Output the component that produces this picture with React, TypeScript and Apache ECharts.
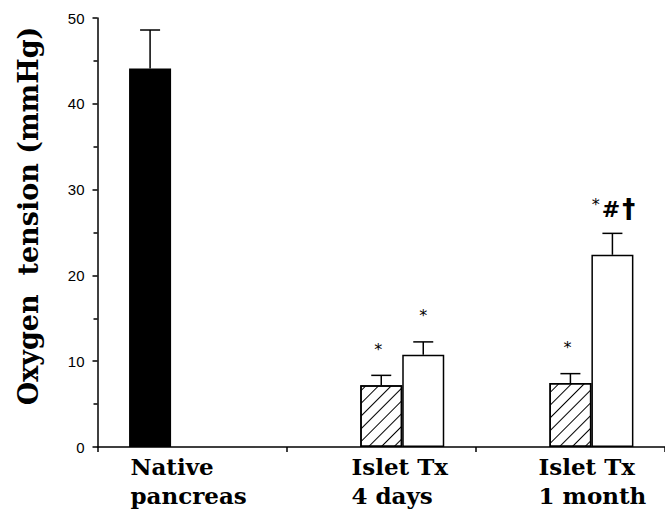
import React, { useEffect, useRef } from "react";
import * as echarts from "echarts";

const categories = ["Native\npancreas", "Islet Tx\n4 days", "Islet Tx\n1 month"];
const nativeMean = [44.1, null, null];
const nativeErr = [4.5, null, null];
const hatchedMean = [null, 7.2, 7.45];
const hatchedErr = [null, 1.15, 1.1];
const openMean = [null, 10.75, 22.4];
const openErr = [null, 1.5, 2.5];
const hatchedNote = ["", "*", "*"];
const openNote = ["", "*", "*#†"];
const yTicks = [0, 10, 20, 30, 40, 50];
const yTitle = "Oxygen  tension (mmHg)";

const BAR_W = 42;

export default function App() {
  const ref = useRef<HTMLDivElement>(null);
  useEffect(() => {
    if (!ref.current) return;
    const chart = echarts.init(ref.current, null, { renderer: "svg" });

    const errData: number[][] = [];
    const slots: number[] = [];
    const notes: string[] = [];
    const add = (means: (number | null)[], errs: (number | null)[], slot: number, nts: string[] | null) => {
      means.forEach((m, i) => {
        if (m == null) return;
        errData.push([i, m + (errs[i] as number), m]);
        slots.push(slot);
        notes.push(nts ? nts[i] : "");
      });
    };
    add(nativeMean, nativeErr, -1, null);
    add(hatchedMean, hatchedErr, 0, hatchedNote);
    add(openMean, openErr, 1, openNote);

    const lab = (pad: number[]) => ({
      fontFamily: "DejaVu Serif",
      fontWeight: "bold",
      fontSize: 23,
      lineHeight: 29,
      color: "#000",
      align: "left",
      padding: pad,
    });

    const option: any = {
      animation: false,
      grid: { left: 97.5, right: 0, top: 18, bottom: 63 },
      graphic: [
        {
          type: "text",
          x: 28,
          y: 216,
          rotation: Math.PI / 2,
          style: {
            text: yTitle,
            align: "center",
            verticalAlign: "middle",
            fontFamily: "DejaVu Serif",
            fontWeight: "bold",
            fontSize: 27,
            fill: "#000",
          },
        },
      ],
      xAxis: {
        type: "category",
        data: categories,
        axisLine: { lineStyle: { color: "#000", width: 1.5 } },
        axisTick: { show: true, length: 5, lineStyle: { color: "#000", width: 1.5 } },
        axisLabel: {
          margin: 5,
          color: "#000",
          formatter: (v: string, idx: number) =>
            v.split("\n").map((l) => `{c${idx}|${l}}`).join("\n"),
          rich: {
            c0: lab([0, 7, 0, 0]),
            c1: lab([0, 0, 0, 37]),
            c2: lab([0, 0, 0, 44]),
          },
        },
        splitLine: { show: false },
      },
      yAxis: {
        type: "value",
        min: 0,
        max: 50,
        interval: 10,
        axisLine: { show: true, lineStyle: { color: "#000", width: 1.5 } },
        axisTick: { show: true, length: 5, lineStyle: { color: "#000", width: 1.5 } },
        minorTick: { show: true, splitNumber: 2, length: 4, lineStyle: { color: "#000", width: 1.5 } },
        axisLabel: {
          margin: 13,
          color: "#000",
          fontFamily: "Liberation Sans",
          fontSize: 15,
          formatter: (v: number) => (yTicks.includes(v) ? String(v) : ""),
        },
        splitLine: { show: false },
      },
      series: [
        {
          name: "Native",
          type: "bar",
          data: nativeMean,
          barWidth: BAR_W,
          barGap: "0%",
          itemStyle: { color: "#000", borderColor: "#000", borderWidth: 1.5 },
        },
        {
          name: "Hatched",
          type: "bar",
          data: hatchedMean,
          barWidth: BAR_W,
          barGap: "0%",
          itemStyle: {
            color: "#fff",
            borderColor: "#000",
            borderWidth: 1.5,
            decal: {
              symbol: "rect",
              symbolSize: 1,
              color: "#000",
              dashArrayX: [1, 0],
              dashArrayY: [1, 7.3],
              rotation: -Math.PI / 4,
            },
          },
        },
        {
          name: "Open",
          type: "bar",
          data: openMean,
          barWidth: BAR_W,
          barGap: "0%",
          itemStyle: { color: "#fff", borderColor: "#000", borderWidth: 1.5 },
        },
        {
          type: "custom",
          data: errData,
          z: 10,
          renderItem: (params: any, api: any) => {
            const i = params.dataIndex;
            const c = api.value(0);
            const top = api.coord([c, api.value(1)]);
            const base = api.coord([c, api.value(2)]);
            const x = top[0] + slots[i] * BAR_W;
            const children: any[] = [
              { type: "line", shape: { x1: x, y1: base[1], x2: x, y2: top[1] }, style: { stroke: "#000", lineWidth: 1.5 } },
              { type: "line", shape: { x1: x - 10, y1: top[1], x2: x + 10, y2: top[1] }, style: { stroke: "#000", lineWidth: 1.5 } },
            ];
            const note = notes[i];
            if (note === "*") {
              children.push({
                type: "text",
                style: {
                  text: "*",
                  x: x + (slots[i] === 0 ? -3 : 0),
                  y: top[1] - 26,
                  align: "center",
                  verticalAlign: "middle",
                  fontFamily: "DejaVu Sans",
                  fontSize: 16,
                  fill: "#000",
                },
              });
            } else if (note) {
              children.push({
                type: "text",
                style: {
                  text: `{s|*}{h|${note.charAt(1)}}{d|${note.slice(2)}}`,
                  x: x + 1,
                  y: top[1] - 24,
                  align: "center",
                  verticalAlign: "middle",
                  rich: {
                    s: { fontFamily: "DejaVu Sans", fontSize: 16, fill: "#000", verticalAlign: "top", padding: [0, 2, 10, 0] },
                    h: { fontFamily: "DejaVu Sans", fontWeight: "bold", fontSize: 22, fill: "#000", padding: [0, 2, 0, 0] },
                    d: { fontFamily: "DejaVu Sans", fontWeight: "bold", fontSize: 26, fill: "#000" },
                  },
                },
              });
            }
            return { type: "group", children };
          },
        },
      ],
    };
    chart.setOption(option);
    return () => chart.dispose();
  }, []);
  return <div ref={ref} style={{ position: "absolute", left: 0, top: 0, width: 665, height: 510 }} />;
}
